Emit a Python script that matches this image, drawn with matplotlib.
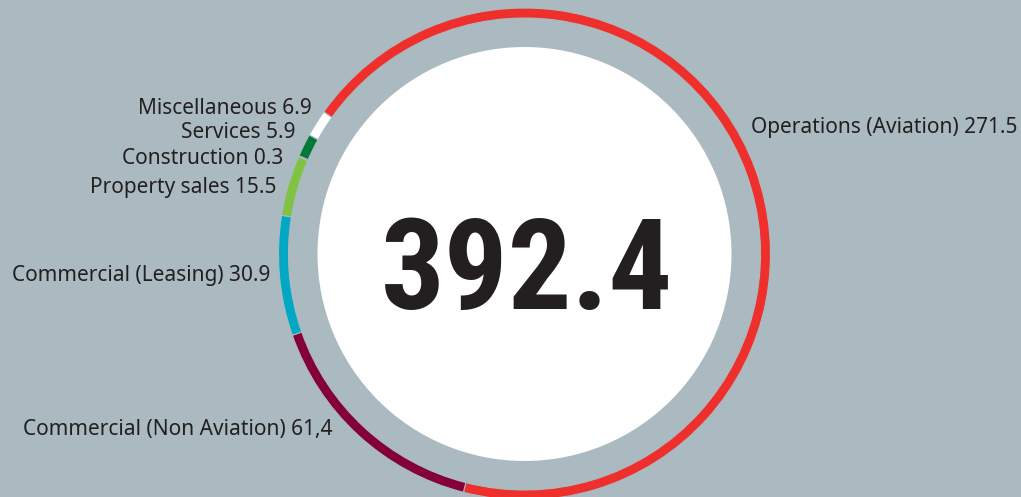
import matplotlib.pyplot as plt
from matplotlib.patches import Circle

# revenue breakdown
categories = ['Operations (Aviation)', 'Commercial (Non Aviation)', 'Commercial (Leasing)',
              'Property sales', 'Construction', 'Services', 'Miscellaneous']
values = [271.5, 61.4, 30.9, 15.5, 0.3, 5.9, 6.9]
value_labels = ['271.5', '61,4', '30.9', '15.5', '0.3', '5.9', '6.9']
colors = ['#ee2f2b', '#83003a', '#00a8c3', '#80c241', '#1c5f78', '#007a36', '#ffffff']
total_label = '392.4'

bg = '#abbac1'
W, H = 1021, 497
fig = plt.figure(figsize=(W / 100, H / 100), dpi=100, facecolor=bg)
ax = fig.add_axes([0, 0, 1, 1])

cx, cy, r = 524.5, H - 254, 246
ax.pie(values, colors=colors, startangle=144.7, counterclock=False,
       center=(cx, cy), radius=r, frame=True,
       wedgeprops=dict(width=10, edgecolor=bg, linewidth=0.8))
ax.set_xlim(0, W)
ax.set_ylim(0, H)
ax.set_aspect('equal')
ax.axis('off')
ax.add_patch(Circle((cx, cy), 207, facecolor='white', edgecolor='none'))

ax.text(cx + 2, H - 274, total_label, ha='center', va='center', fontsize=91,
        fontweight='bold', color='#231f20',
        family=['DejaVu Sans Condensed', 'Roboto Condensed', 'Liberation Sans Narrow', 'Roboto'])

# label anchors (pixel layout): (x, y, ha)
pos = [(751, 128, 'left'), (332, 430, 'right'), (270, 276, 'right'),
       (276, 188, 'right'), (283, 158, 'right'), (295, 132, 'right'), (312, 108, 'right')]
for cat, lab, (x, y, ha) in zip(categories, value_labels, pos):
    ax.text(x, H - y, f'{cat} {lab}', ha=ha, va='center', fontsize=15,
            color='#231f20', family='Noto Sans')

fig.savefig('out.png', dpi=100, facecolor=bg)
